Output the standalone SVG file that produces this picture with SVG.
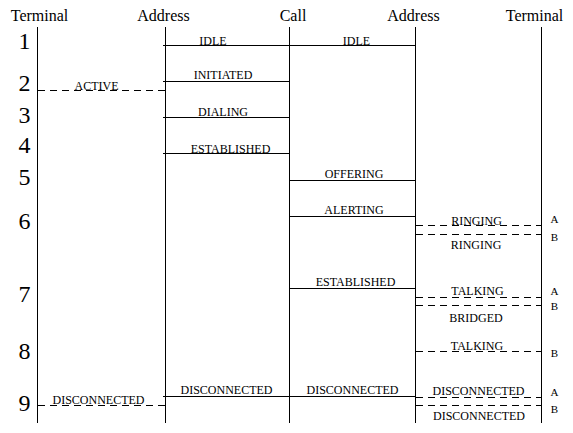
<svg xmlns="http://www.w3.org/2000/svg" width="573" height="433" viewBox="0 0 573 433">
<style>
text{font-family:"Liberation Serif","Times New Roman",serif;fill:#000}
.h{font-size:16px;text-anchor:middle}
.n{font-size:24px;text-anchor:middle}
.l{font-size:12px;text-anchor:middle}
.ab{font-size:11px;text-anchor:middle}
.s{stroke:#000;stroke-width:1;fill:none}
.d{stroke:#000;stroke-width:1;fill:none;stroke-dasharray:7 5}
</style>
<rect width="573" height="433" fill="#fff"/>
<g id="lifelines">
<g id="terminal-left"><text class="h" x="39.5" y="21">Terminal</text><line class="s" x1="37.5" y1="27" x2="37.5" y2="423"/></g>
<g id="address-left"><text class="h" x="163.5" y="21">Address</text><line class="s" x1="165.5" y1="27" x2="165.5" y2="423"/></g>
<g id="call"><text class="h" x="293" y="21">Call</text><line class="s" x1="289.5" y1="27" x2="289.5" y2="423"/></g>
<g id="address-right"><text class="h" x="413.5" y="21">Address</text><line class="s" x1="415.5" y1="27" x2="415.5" y2="423"/></g>
<g id="terminal-right"><text class="h" x="534.5" y="21">Terminal</text><line class="s" x1="541.5" y1="27" x2="541.5" y2="423"/></g>
</g>
<g id="steps">
<text class="n" x="24.5" y="49">1</text>
<text class="n" x="24.5" y="91">2</text>
<text class="n" x="24.5" y="123">3</text>
<text class="n" x="24.5" y="153">4</text>
<text class="n" x="24.5" y="185">5</text>
<text class="n" x="24.5" y="229">6</text>
<text class="n" x="24.5" y="302">7</text>
<text class="n" x="24.5" y="359">8</text>
<text class="n" x="24.5" y="411">9</text>
</g>
<g id="connectors">
<line class="s" x1="163" y1="45.5" x2="415" y2="45.5"/>
<line class="s" x1="163" y1="81.5" x2="289" y2="81.5"/>
<line class="d" x1="38" y1="90.5" x2="165" y2="90.5"/>
<line class="s" x1="163" y1="117.5" x2="289" y2="117.5"/>
<line class="s" x1="163" y1="153.5" x2="289" y2="153.5"/>
<line class="s" x1="289" y1="180.5" x2="415" y2="180.5"/>
<line class="s" x1="289" y1="216.5" x2="415" y2="216.5"/>
<line class="d" x1="416" y1="225.5" x2="541" y2="225.5"/>
<line class="d" x1="416" y1="234.5" x2="541" y2="234.5"/>
<line class="s" x1="289" y1="288.5" x2="415" y2="288.5"/>
<line class="d" x1="416" y1="297.5" x2="541" y2="297.5"/>
<line class="d" x1="416" y1="305.5" x2="541" y2="305.5"/>
<line class="d" x1="416" y1="351.5" x2="541" y2="351.5"/>
<line class="s" x1="163" y1="396.5" x2="415" y2="396.5"/>
<line class="d" x1="416" y1="397.5" x2="541" y2="397.5"/>
<line class="d" x1="38" y1="405.5" x2="165" y2="405.5"/>
<line class="d" x1="416" y1="405.5" x2="541" y2="405.5"/>
</g>
<g id="labels">
<text class="l" x="213" y="44.5">IDLE</text>
<text class="l" x="356.5" y="44.5">IDLE</text>
<text class="l" x="223" y="79">INITIATED</text>
<text class="l" x="96.5" y="90">ACTIVE</text>
<text class="l" x="223" y="116">DIALING</text>
<text class="l" x="230.5" y="152.5">ESTABLISHED</text>
<text class="l" x="354" y="178">OFFERING</text>
<text class="l" x="354" y="214">ALERTING</text>
<text class="l" x="476.5" y="224.5">RINGING</text>
<text class="l" x="476" y="249">RINGING</text>
<text class="l" x="355.5" y="286">ESTABLISHED</text>
<text class="l" x="477.5" y="295">TALKING</text>
<text class="l" x="476" y="322">BRIDGED</text>
<text class="l" x="477" y="350">TALKING</text>
<text class="l" x="226.5" y="394">DISCONNECTED</text>
<text class="l" x="352.5" y="394">DISCONNECTED</text>
<text class="l" x="478.5" y="395">DISCONNECTED</text>
<text class="l" x="98.5" y="403.5">DISCONNECTED</text>
<text class="l" x="479" y="420">DISCONNECTED</text>
<text class="ab" x="554.5" y="223">A</text>
<text class="ab" x="554.5" y="241">B</text>
<text class="ab" x="554.5" y="295">A</text>
<text class="ab" x="554.5" y="310">B</text>
<text class="ab" x="554.5" y="357">B</text>
<text class="ab" x="554.5" y="396">A</text>
<text class="ab" x="554.5" y="413">B</text>
</g>
</svg>
